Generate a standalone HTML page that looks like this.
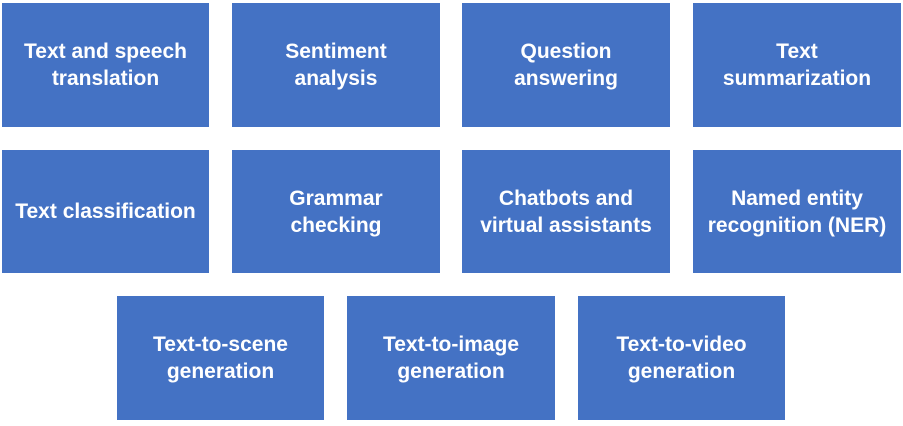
<!DOCTYPE html>
<html><head><meta charset="utf-8"><style>
html,body{margin:0;padding:0;background:#fff;width:903px;height:426px;overflow:hidden;position:relative}
.b{position:absolute;background:#4472C4;color:#fff;font-family:"Liberation Sans",sans-serif;font-weight:bold;font-size:21px;line-height:27px;display:flex;align-items:center;justify-content:center;text-align:center;width:207px;height:124px}
</style></head><body>
<div class="b" style="left:2px;top:3px">Text and speech<br>translation</div>
<div class="b" style="left:232px;top:3px;width:208px">Sentiment<br>analysis</div>
<div class="b" style="left:462px;top:3px;width:208px">Question<br>answering</div>
<div class="b" style="left:693px;top:3px;width:208px">Text<br>summarization</div>
<div class="b" style="left:2px;top:150px;height:123px">Text classification</div>
<div class="b" style="left:232px;top:150px;width:208px;height:123px">Grammar<br>checking</div>
<div class="b" style="left:462px;top:150px;width:208px;height:123px">Chatbots and<br>virtual assistants</div>
<div class="b" style="left:693px;top:150px;width:208px;height:123px">Named entity<br>recognition (NER)</div>
<div class="b" style="left:117px;top:296px">Text-to-scene<br>generation</div>
<div class="b" style="left:347px;top:296px;width:208px">Text-to-image<br>generation</div>
<div class="b" style="left:578px;top:296px">Text-to-video<br>generation</div>
</body></html>
